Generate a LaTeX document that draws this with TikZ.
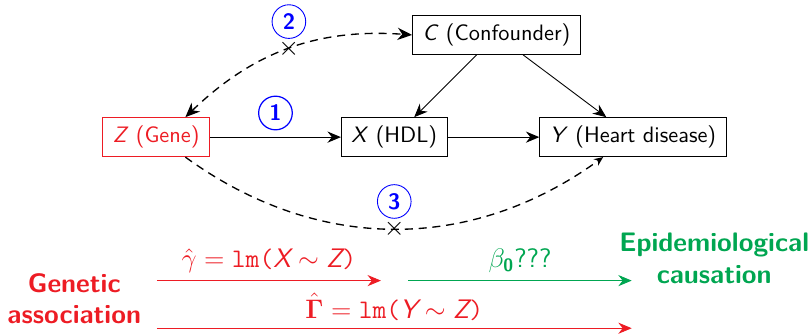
\documentclass[tikz,border=0pt]{standalone}
\usepackage{amsmath}
\usepackage{amssymb}
\usetikzlibrary{arrows.meta,positioning}
\definecolor{genred}{RGB}{237,28,36}
\definecolor{epigreen}{RGB}{0,166,81}

\begin{document}
\begin{tikzpicture}[font=\sffamily,
    var/.style={draw,inner xsep=4.5pt,minimum height=17.5pt},
    num/.style={draw,blue,circle,inner sep=0pt,minimum size=0.53cm,font=\sffamily\bfseries},
    cut/.style={inner sep=0pt,font=\large},
    arc/.style={semithick,dash pattern=on 3.6pt off 2.6pt},
    lab/.style={above,font=\sffamily\large},
    tip/.style={-{Stealth[length=6pt,width=5pt]}},
    tips/.style={{Stealth[length=6.5pt,width=5.5pt]}-{Stealth[length=6.5pt,width=5.5pt]}}]
  \useasboundingbox (0,0) rectangle (12.79,5.28);
  \node [var,genred] (Z) at (2.46,3.12) {\textit{Z} (Gene)};
  \node [var] (X) at (6.21,3.12) {\textit{X} (HDL)};
  \node [var] (Y) at (9.97,3.12) {\textit{Y} (Heart disease)};
  \node [var] (C) at (7.82,4.73) {\textit{C} (Confounder)};
  \draw [tip,line width=0.55pt] (Z) -- node [num,above=3pt] {1} (X);
  \draw [tip,line width=0.55pt] (X) -- (Y);
  \draw [tip] (C) -- (X);
  \draw [tip] (C) -- (Y);
  \draw [tips,arc] ([xshift=0.46cm]Z.north) to[bend left=24] node [cut] (cut2) {$\times$} (C.west);
  \node [num,above=0.16cm of cut2.center] {2};
  \draw [arc,-{Stealth[length=4pt,width=3.5pt]}] ([xshift=0.46cm]Z.south) to[bend right=36] node [cut] (cut3) {$\times$} ([xshift=-0.47cm]Y.south);
  \node [num,above=0.16cm of cut3.center] {3};
  \node [genred,font=\sffamily\bfseries\large,align=center] (gen) at (1.17,0.58) {Genetic\\association};
  \node [epigreen,font=\sffamily\bfseries\large,align=center] (epi) at (11.25,1.21) {Epidemiological\\causation};
  \coordinate (g0) at (2.47,0.86);
  \coordinate (g1) at (6.0,0.86);
  \coordinate (e0) at (6.43,0.86);
  \coordinate (e1) at (9.95,0.86);
  \coordinate (G0) at (2.47,0.11);
  \coordinate (G1) at (9.95,0.11);
  \draw [tip,genred] (g0) -- node [lab] {$\hat{\gamma} = \texttt{lm(}\textit{X} \sim \textit{Z}\texttt{)}$} (g1);
  \draw [tip,epigreen] (e0) -- node [lab] {$\beta_{\textbf{0}}$???} (e1);
  \draw [tip,genred] (G0) -- node [lab] {$\hat{\boldsymbol{\Gamma}} = \texttt{lm(}\textit{Y} \sim \textit{Z}\texttt{)}$} (G1);
\end{tikzpicture}
\end{document}
